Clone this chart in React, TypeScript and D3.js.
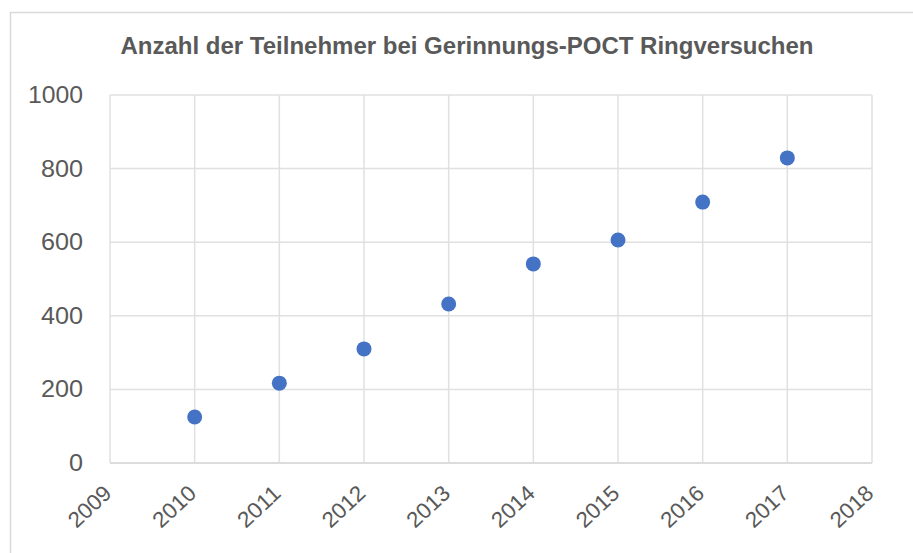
import React from "react";
import * as d3 from "d3";

const years = [2010, 2011, 2012, 2013, 2014, 2015, 2016, 2017];
const participants = [125, 217, 310, 432, 541, 606, 709, 829];
const xTicks = [2009, 2010, 2011, 2012, 2013, 2014, 2015, 2016, 2017, 2018];
const yTicks = [0, 200, 400, 600, 800, 1000];
const title = "Anzahl der Teilnehmer bei Gerinnungs-POCT Ringversuchen";

const W = 913;
const H = 553;
const plot = { left: 110, right: 872, top: 95, bottom: 463 };

export default function App() {
  const x = d3.scaleLinear().domain([2009, 2018]).range([plot.left, plot.right]);
  const y = d3.scaleLinear().domain([0, 1000]).range([plot.bottom, plot.top]);
  const font = "'Liberation Sans', 'DejaVu Sans', sans-serif";
  return (
    <svg width={W} height={H} style={{ position: "absolute", left: 0, top: 0, background: "#fff" }}>
      <rect x={10.5} y={12.5} width={W + 20} height={H + 20} fill="#fff" stroke="#d9d9d9" strokeWidth={1.5} />
      <text
        x={467}
        y={54}
        textAnchor="middle"
        fontFamily={font}
        fontWeight="bold"
        fontSize={23}
        fill="#595959"
        textLength={693}
        lengthAdjust="spacingAndGlyphs"
      >
        {title}
      </text>
      {yTicks.map((t) => (
        <line key={"gy" + t} x1={plot.left} x2={plot.right} y1={y(t)} y2={y(t)} stroke={t === 0 ? "#d0d0d0" : "#e0e0e0"} strokeWidth={1.5} />
      ))}
      {xTicks.map((t) => (
        <line key={"gx" + t} x1={x(t)} x2={x(t)} y1={plot.top} y2={plot.bottom} stroke="#e0e0e0" strokeWidth={1.5} />
      ))}
      {yTicks.map((t) => (
        <text
          key={"ty" + t}
          x={83}
          y={y(t) + 8}
          textAnchor="end"
          fontFamily={font}
          fontSize={23}
          fill="#595959"
          textLength={t === 1000 ? 55 : t === 0 ? 14 : 42}
          lengthAdjust="spacingAndGlyphs"
        >
          {t}
        </text>
      ))}
      {xTicks.map((t) => (
        <text
          key={"tx" + t}
          transform={`translate(${x(t) + 3},${plot.bottom + 32}) rotate(-43)`}
          textAnchor="end"
          fontFamily={font}
          fontSize={22}
          fill="#595959"
          textLength={50}
          lengthAdjust="spacingAndGlyphs"
        >
          {t}
        </text>
      ))}
      {years.map((yr, i) => (
        <circle key={"p" + yr} cx={x(yr)} cy={y(participants[i])} r={7.5} fill="#4472C4" />
      ))}
    </svg>
  );
}
